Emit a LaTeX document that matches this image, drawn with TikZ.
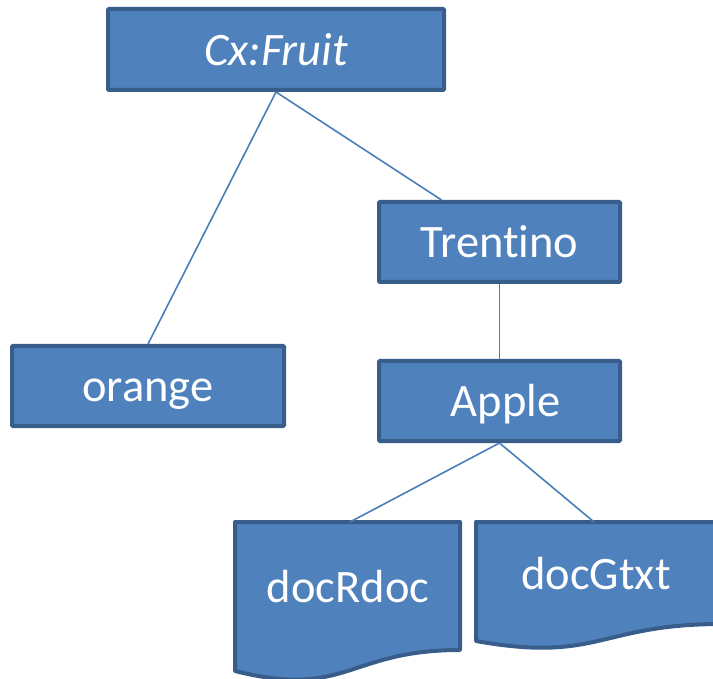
\documentclass[tikz,border=0pt]{standalone}
\usepackage{fontspec}
\setmainfont{Carlito}[Ligatures=NoCommon]
\definecolor{boxfill}{HTML}{4F81BD}
\definecolor{boxedge}{HTML}{385D8A}
\definecolor{linkcol}{HTML}{4A7EBB}
\begin{document}
\begin{tikzpicture}[x=1pt,y=1pt,
  box/.style={draw=boxedge, fill=boxfill, line width=4pt, rounded corners=1pt,
    text=white, font=\fontsize{46.5}{55}\selectfont, inner sep=0pt,
    text height=32pt, text depth=0pt, minimum height=80pt},
  doclabel/.style={text=white, font=\fontsize{46.5}{55}\selectfont, inner sep=0pt, anchor=base},
  docshape/.style={draw=boxedge, fill=boxfill, line width=4pt, line join=round},
  link/.style={draw=linkcol, line width=1.6pt}]
\useasboundingbox (0,0) rectangle (713,-679);

% rectangular boxes
\node[box, minimum width=336pt, minimum height=81pt] (fruit) at (276,-49.5) {\itshape Cx:Fruit};
\node[box, minimum width=241pt] (trentino) at (499.5,-242) {Trentino};
\node[box, minimum width=272pt] (orange) at (148,-386) {orange};
\node[box, minimum width=241pt] (apple) at (499.5,-401) {\hspace*{12pt}Apple};

% document shapes with wavy bottoms
\begin{scope}
\clip (0,0) rectangle (713,-679);
\draw[docshape] (235,-522) -- (460,-522) -- (460,-650)
  .. controls (347.5,-650) and (347.5,-699) .. (235,-671) -- cycle;
\draw[docshape] (476,-522) -- (722,-522) -- (722,-624)
  .. controls (599,-624) and (599,-663) .. (476,-641) -- cycle;
\end{scope}
\node[doclabel] (docr) at (348,-602) {docRdoc};
\node[doclabel] (docg) at (596,-589) {docGtxt};
\coordinate (docrtop) at (350,-522);
\coordinate (docgtop) at (594,-522);

% connectors
\draw[link] (fruit.south) -- (orange.north);
\draw[link] (fruit.south) -- ([xshift=-58pt]trentino.north);
\draw[link] (trentino.south) -- (apple.north);
\draw[link] (apple.south) -- (docrtop);
\draw[link] (apple.south) -- (docgtop);
\end{tikzpicture}
\end{document}
